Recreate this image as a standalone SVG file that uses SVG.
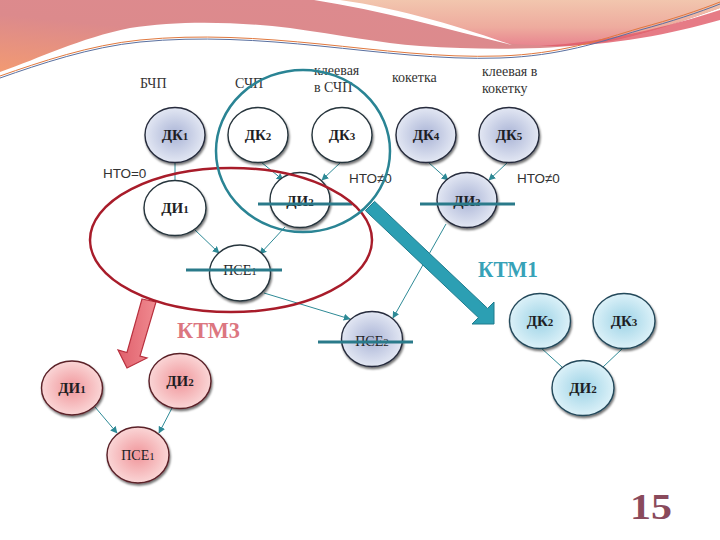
<svg xmlns="http://www.w3.org/2000/svg" width="720" height="540" viewBox="0 0 720 540">
<defs>
  <linearGradient id="band" x1="0" y1="1" x2="1" y2="0">
    <stop offset="0" stop-color="#f29a72"/>
    <stop offset="0.4" stop-color="#dc8a8c"/>
    <stop offset="1" stop-color="#de8a90"/>
  </linearGradient>
  <linearGradient id="peach" x1="0" y1="0" x2="0" y2="1">
    <stop offset="0" stop-color="#f2c6ae"/>
    <stop offset="0.6" stop-color="#eeab9e"/>
    <stop offset="1" stop-color="#e8858f"/>
  </linearGradient>
  <radialGradient id="gBlue" cx="0.5" cy="0.5" r="0.55">
    <stop offset="0" stop-color="#aab4d6"/>
    <stop offset="1" stop-color="#e8ecf6"/>
  </radialGradient>
  <radialGradient id="gPink" cx="0.5" cy="0.5" r="0.55">
    <stop offset="0" stop-color="#f0959a"/>
    <stop offset="1" stop-color="#fbdcdc"/>
  </radialGradient>
  <radialGradient id="gCyan" cx="0.5" cy="0.5" r="0.55">
    <stop offset="0" stop-color="#9dd3e6"/>
    <stop offset="1" stop-color="#e2f4fa"/>
  </radialGradient>
  <linearGradient id="gPinkArrow" x1="0" y1="0" x2="1" y2="0">
    <stop offset="0" stop-color="#e0606c"/>
    <stop offset="1" stop-color="#f08a90"/>
  </linearGradient>
  <filter id="sh" x="-20%" y="-20%" width="140%" height="150%">
    <feDropShadow dx="1" dy="2" stdDeviation="1.3" flood-color="#000" flood-opacity="0.55"/>
  </filter>
  <marker id="arr" viewBox="0 0 10 10" refX="9" refY="5" markerWidth="7" markerHeight="7" orient="auto" markerUnits="userSpaceOnUse">
    <path d="M0,0 L10,5 L0,10 Z" fill="#2e8a96"/>
  </marker>
  <style>
    .n { stroke-width: 1.4; filter: url(#sh); }
    .nb { fill: url(#gBlue); stroke: #262c3c; }
    .nw { fill: #ffffff; stroke: #26343c; }
    .np { fill: url(#gPink); stroke: #5a2028; }
    .nc { fill: url(#gCyan); stroke: #24485a; }
    .lb { font-family: "Liberation Serif", serif; font-weight: bold; font-size: 15px; fill: #1e1e24; text-anchor: middle; }
    .lr { font-family: "Liberation Serif", serif; font-size: 14px; fill: #1e1e24; text-anchor: middle; }
    .d { font-size: 11px; }
    .cap { font-family: "Liberation Serif", serif; font-size: 14px; fill: #333; }
    .nto { font-family: "Liberation Sans", sans-serif; font-size: 13.5px; fill: #333; }
    .e { stroke: #2e8a96; stroke-width: 1; fill: none; }
    .ea { stroke: #2e8a96; stroke-width: 1; fill: none; marker-end: url(#arr); }
    .strike { stroke: #2a7a8a; stroke-width: 3; }
  </style>
</defs>

<rect width="720" height="540" fill="#ffffff"/>

<!-- top decoration -->
<g id="background">
  <path d="M0,0 H720 V8 C680,22 630,40 590,44 C540,50 480,50 420,46 C380,43 340,35 290,28 C240,22 180,20 130,28 C80,38 40,58 0,72 Z" fill="url(#band)"/>
  <path d="M320,0 H720 V8 C680,22 640,36 600,42 C560,47 530,46 505,43 C450,30 385,10 320,0 Z" fill="url(#peach)"/>
  <path d="M314,0 C380,10 450,30 512,45 C470,30 400,8 340,0 Z" fill="#ffffff"/>
  <path d="M540,46 C610,42 670,26 720,10 V20 C670,34 610,47 540,46 Z" fill="#e05a68" opacity="0.8"/>
  <path d="M0,76 C40,62 90,45 140,40 C200,34 260,38 320,44 C380,50 440,58 500,56 C560,54 600,40 640,28 C670,20 700,10 720,2" fill="none" stroke="#e0783e" stroke-width="1"/>
  <path d="M0,78 C40,64 90,47 140,42 C200,36 260,40 320,46 C380,52 440,60 500,58 C560,56 600,42 640,30 C670,22 700,12 720,4" fill="none" stroke="#5a70a0" stroke-width="1"/>
</g>

<!-- category captions -->
<g id="captions">
  <text class="cap" x="140" y="88">БЧП</text>
  <text class="cap" x="235" y="88">СЧП</text>
  <text class="cap" x="314" y="75">клеевая</text>
  <text class="cap" x="314" y="92">в СЧП</text>
  <text class="cap" x="392" y="82">кокетка</text>
  <text class="cap" x="482" y="76">клеевая в</text>
  <text class="cap" x="482" y="93">кокетку</text>
  <text class="nto" x="103" y="178">НТО=0</text>
  <text class="nto" x="349" y="183">НТО≠0</text>
  <text class="nto" x="517" y="183">НТО≠0</text>
</g>

<!-- connectors -->
<g id="connectors">
  <line class="e" x1="175" y1="162" x2="175" y2="181"/>
  <line class="ea" x1="261" y1="162" x2="283" y2="180"/>
  <line class="ea" x1="341" y1="162" x2="322" y2="180"/>
  <line class="ea" x1="428" y1="162" x2="448" y2="180"/>
  <line class="ea" x1="508" y1="162" x2="489" y2="180"/>
  <line class="ea" x1="195" y1="230" x2="219" y2="253"/>
  <line class="ea" x1="285" y1="227" x2="260" y2="254"/>
  <line class="ea" x1="264" y1="293" x2="350" y2="319"/>
  <line class="ea" x1="446" y1="224" x2="393" y2="318"/>
  <line class="ea" x1="95" y1="407" x2="117" y2="433"/>
  <line class="ea" x1="172" y1="408" x2="159" y2="433"/>
  <line class="e" x1="540" y1="347" x2="562" y2="367"/>
  <line class="e" x1="623" y1="348" x2="603" y2="367"/>
</g>

<!-- main tree nodes -->
<g id="dk1"><ellipse class="n nb" cx="175" cy="135" rx="30" ry="27.5"/><text class="lb" x="175" y="140">ДК<tspan class="d">1</tspan></text></g>
<g id="dk2"><ellipse class="n nw" cx="258" cy="135" rx="30" ry="27.5"/><text class="lb" x="258" y="140">ДК<tspan class="d">2</tspan></text></g>
<g id="dk3"><ellipse class="n nw" cx="342" cy="135" rx="30" ry="27.5"/><text class="lb" x="342" y="140">ДК<tspan class="d">3</tspan></text></g>
<g id="dk4"><ellipse class="n nb" cx="426" cy="135" rx="30" ry="27.5"/><text class="lb" x="426" y="140">ДК<tspan class="d">4</tspan></text></g>
<g id="dk5"><ellipse class="n nb" cx="509" cy="135" rx="30" ry="27.5"/><text class="lb" x="509" y="140">ДК<tspan class="d">5</tspan></text></g>
<g id="di1"><ellipse class="n nw" cx="175" cy="208" rx="31" ry="27.5"/><text class="lb" x="175" y="213">ДИ<tspan class="d">1</tspan></text></g>
<g id="di2"><ellipse class="n nw" cx="300" cy="200" rx="30" ry="27.5"/><text class="lb" x="300" y="206">ДИ<tspan class="d">2</tspan></text></g>
<g id="di3"><ellipse class="n nb" cx="467" cy="200" rx="30" ry="27.5"/><text class="lb" x="467" y="206">ДИ<tspan class="d">3</tspan></text></g>
<g id="pse1"><ellipse class="n nw" cx="240" cy="273" rx="30.5" ry="28"/><text class="lr" x="240" y="275">ПСЕ<tspan class="d">1</tspan></text></g>
<g id="pse2"><ellipse class="n nb" cx="372" cy="339" rx="30.5" ry="27.5"/><text class="lr" x="372" y="346">ПСЕ<tspan class="d">2</tspan></text></g>

<!-- strike lines -->
<g id="strikes">
  <line class="strike" x1="258" y1="204" x2="352" y2="204"/>
  <line class="strike" x1="420" y1="204" x2="515" y2="204"/>
  <line class="strike" x1="186" y1="270" x2="282" y2="270"/>
  <line class="strike" x1="318" y1="342" x2="413" y2="342"/>
</g>

<!-- pink arrow -->
<g id="arrow-ktm3">
  <polygon points="142,299 156,302 140,356 147,358 127,368 118,350 127,352.5" fill="url(#gPinkArrow)" stroke="#b8303e" stroke-width="1.2" stroke-linejoin="miter"/>
</g>

<!-- red ellipse -->
<g id="group-ktm3">
  <ellipse cx="231" cy="240" rx="141" ry="72" fill="none" stroke="#a81c2a" stroke-width="2.5"/>
</g>

<!-- teal circle -->
<g id="group-ktm1">
  <ellipse cx="303" cy="151" rx="87" ry="81" fill="none" stroke="#2a8494" stroke-width="2.5"/>
</g>

<!-- teal arrow -->
<g id="arrow-ktm1">
  <polygon points="374.6,201.4 487.6,308.4 494,302 494,324 472,324 478.4,317.6 365.4,210.6" fill="#2c9fb3" stroke="#1e7a8c" stroke-width="1"/>
</g>

<text x="478" y="277" font-family="'Liberation Serif', serif" font-weight="bold" font-size="24" fill="#37a2b8" textLength="60" lengthAdjust="spacingAndGlyphs">КТМ1</text>
<text x="177" y="338" font-family="'Liberation Serif', serif" font-weight="bold" font-size="24" fill="#dc7680" textLength="63" lengthAdjust="spacingAndGlyphs">КТМ3</text>

<!-- pink tree -->
<g id="p-di1"><ellipse class="n np" cx="72" cy="388" rx="30.5" ry="27"/><text class="lb" x="72" y="393">ДИ<tspan class="d">1</tspan></text></g>
<g id="p-di2"><ellipse class="n np" cx="180" cy="381" rx="31" ry="27.5"/><text class="lb" x="180" y="386">ДИ<tspan class="d">2</tspan></text></g>
<g id="p-pse1"><ellipse class="n np" cx="138" cy="455" rx="31" ry="28"/><text class="lr" x="138" y="460">ПСЕ<tspan class="d">1</tspan></text></g>

<!-- cyan tree -->
<g id="c-dk2"><ellipse class="n nc" cx="540" cy="321" rx="30.5" ry="27.5"/><text class="lb" x="540" y="326">ДК<tspan class="d">2</tspan></text></g>
<g id="c-dk3"><ellipse class="n nc" cx="624" cy="321" rx="31" ry="27.5"/><text class="lb" x="624" y="326">ДК<tspan class="d">3</tspan></text></g>
<g id="c-di2"><ellipse class="n nc" cx="583" cy="388" rx="31" ry="27.5"/><text class="lb" x="583" y="393">ДИ<tspan class="d">2</tspan></text></g>

<text x="630" y="519" font-family="'Liberation Serif', serif" font-weight="bold" font-size="36" fill="#8a4a5c" textLength="42" lengthAdjust="spacingAndGlyphs">15</text>
</svg>
